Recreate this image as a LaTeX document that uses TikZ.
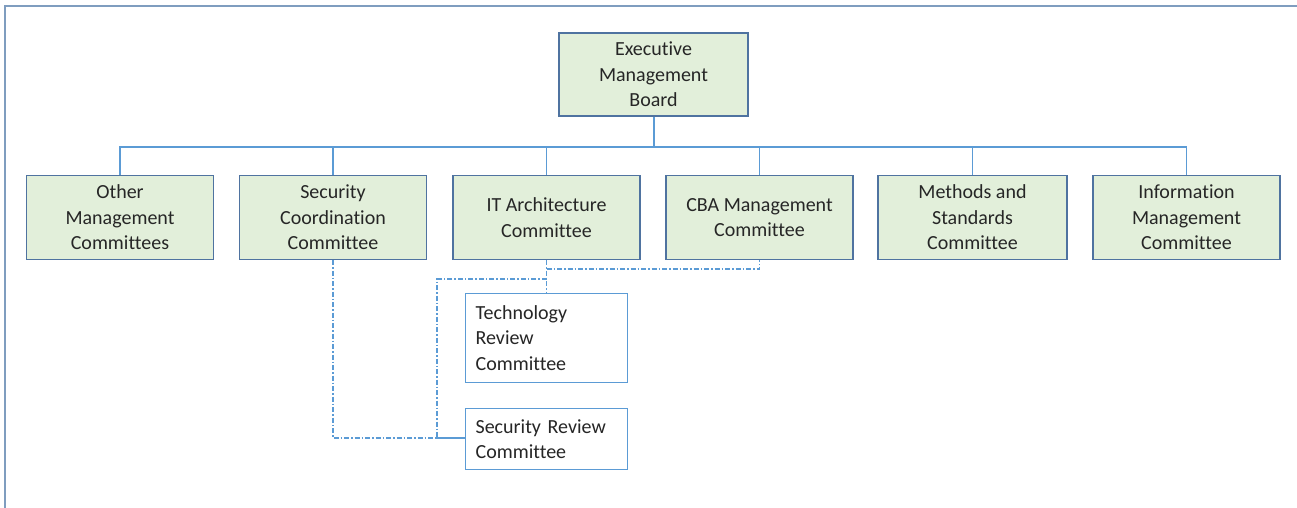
\documentclass[tikz,border=0pt]{standalone}
\usepackage{fontspec}
\setmainfont{Carlito}[Ligatures={NoCommon}]
\definecolor{framec}{HTML}{7F9DBF}
\definecolor{boxline}{HTML}{4F73A0}
\definecolor{boxfill}{HTML}{E2EFDA}
\definecolor{conn}{HTML}{5B9BD5}
\definecolor{txt}{HTML}{262626}
\tikzset{
  orgbox/.style={draw=boxline, line width=1.3pt, fill=boxfill, minimum width=187pt, minimum height=84pt,
    inner sep=0pt, align=center, text=txt, font=\fontsize{20}{25.5}\selectfont},
  subbox/.style={draw=conn, line width=1.2pt, fill=white, text width=142pt, inner xsep=10pt, inner ysep=0pt,
    align=left, text=txt, font=\fontsize{20}{25.5}\selectfont, anchor=north west},
  conline/.style={draw=conn, line width=1.3pt},
  dotline/.style={draw=conn, line width=1.1pt, dash pattern=on 5pt off 2pt on 1.5pt off 2pt},
}
\begin{document}
\begin{tikzpicture}[x=1pt,y=-1pt]
\useasboundingbox (0,0) rectangle (1297,508);
\draw[framec, line width=1.8pt] (5,520) -- (5,6) -- (1310,6);

\node[orgbox, minimum width=189pt, minimum height=83pt] (emb) at (653.5,74.5) {Executive\\Management\\Board};

\node[orgbox] (omc) at (120,217.5) {Other\\Management\\Committees};
\node[orgbox] (scc) at (333,217.5) {Security\\Coordination\\Committee};
\node[orgbox] (itc) at (546.5,217.5) {IT Architecture\\Committee};
\node[orgbox] (cba) at (759.5,217.5) {CBA Management\\Committee};
\node[orgbox, minimum width=189pt] (msc) at (972.5,217.5) {Methods and\\Standards\\Committee};
\node[orgbox] (imc) at (1186.5,217.5) {Information\\Management\\Committee};

\node[subbox, minimum height=89pt] (trc) at (465,293) {Technology\\Review\\Committee};
\node[subbox, minimum height=61pt] (src) at (465,408) {Security Review\\Committee};

\coordinate (bus) at (653.5,147);
\draw[conline, line width=2pt] (emb.south) -- (bus);
\draw[conline] (omc.north) |- (bus) -| (imc.north);
\foreach \n in {scc,itc,cba,msc} \draw[conline] (\n.north) -- (\n.north |- bus);

\coordinate (j1) at (546.5,269);
\coordinate (j2) at (546.5,279);
\coordinate (j3) at (437,279);
\coordinate (j4) at (437,438);
\draw[dotline] (itc.south) -- (trc.north -| itc.south);
\draw[dotline] (j1) -| (cba.south);
\draw[dotline] (j2) -- (j3) -- (j4);
\draw[dotline] (scc.south) |- (j4);
\draw[conline] (j4) -- (src.west |- j4);
\end{tikzpicture}
\end{document}
